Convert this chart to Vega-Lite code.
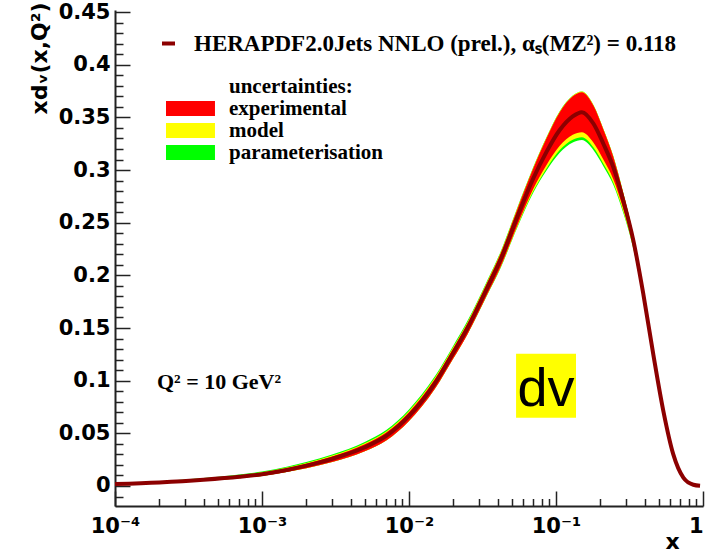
{
  "$schema": "https://vega.github.io/schema/vega-lite/v6.json",
  "width": 588,
  "height": 496,
  "autosize": {"type": "none"},
  "padding": {"left": 115, "top": 10, "right": 2, "bottom": 50},
  "background": "white",
  "config": {"view": {"stroke": null}, "axis": {"grid": false}},
  "datasets": {
    "pdf": [
      {"x": 0.0001, "c": 0.0018, "r_lo": 0.0014, "r_hi": 0.0022, "y_lo": 0.0014, "y_hi": 0.0024, "g_lo": 0.0014, "g_hi": 0.0026},
      {"x": 0.0002, "c": 0.0034, "r_lo": 0.0028, "r_hi": 0.0039, "y_lo": 0.0028, "y_hi": 0.0042, "g_lo": 0.0028, "g_hi": 0.0045},
      {"x": 0.0004, "c": 0.0059, "r_lo": 0.0050, "r_hi": 0.0066, "y_lo": 0.0050, "y_hi": 0.0070, "g_lo": 0.0050, "g_hi": 0.0075},
      {"x": 0.0007, "c": 0.0087, "r_lo": 0.0074, "r_hi": 0.0097, "y_lo": 0.0074, "y_hi": 0.0102, "g_lo": 0.0074, "g_hi": 0.0108},
      {"x": 0.001, "c": 0.0112, "r_lo": 0.0096, "r_hi": 0.0124, "y_lo": 0.0096, "y_hi": 0.0130, "g_lo": 0.0096, "g_hi": 0.0137},
      {"x": 0.0015, "c": 0.0155, "r_lo": 0.0135, "r_hi": 0.0170, "y_lo": 0.0135, "y_hi": 0.0177, "g_lo": 0.0135, "g_hi": 0.0185},
      {"x": 0.002, "c": 0.0193, "r_lo": 0.0169, "r_hi": 0.0211, "y_lo": 0.0169, "y_hi": 0.0219, "g_lo": 0.0169, "g_hi": 0.0228},
      {"x": 0.003, "c": 0.0258, "r_lo": 0.0228, "r_hi": 0.0280, "y_lo": 0.0228, "y_hi": 0.0289, "g_lo": 0.0228, "g_hi": 0.0299},
      {"x": 0.005, "c": 0.0368, "r_lo": 0.0330, "r_hi": 0.0396, "y_lo": 0.0330, "y_hi": 0.0406, "g_lo": 0.0330, "g_hi": 0.0418},
      {"x": 0.007, "c": 0.0475, "r_lo": 0.0432, "r_hi": 0.0507, "y_lo": 0.0432, "y_hi": 0.0518, "g_lo": 0.0432, "g_hi": 0.0531},
      {"x": 0.01, "c": 0.0665, "r_lo": 0.0617, "r_hi": 0.0701, "y_lo": 0.0617, "y_hi": 0.0713, "g_lo": 0.0617, "g_hi": 0.0727},
      {"x": 0.015, "c": 0.0975, "r_lo": 0.0923, "r_hi": 0.1015, "y_lo": 0.0923, "y_hi": 0.1027, "g_lo": 0.0923, "g_hi": 0.1041},
      {"x": 0.02, "c": 0.1265, "r_lo": 0.1210, "r_hi": 0.1307, "y_lo": 0.1210, "y_hi": 0.1319, "g_lo": 0.1210, "g_hi": 0.1332},
      {"x": 0.025, "c": 0.1500, "r_lo": 0.1442, "r_hi": 0.1545, "y_lo": 0.1442, "y_hi": 0.1556, "g_lo": 0.1442, "g_hi": 0.1568},
      {"x": 0.034, "c": 0.1880, "r_lo": 0.1818, "r_hi": 0.1930, "y_lo": 0.1815, "y_hi": 0.1940, "g_lo": 0.1812, "g_hi": 0.1950},
      {"x": 0.042, "c": 0.2150, "r_lo": 0.2082, "r_hi": 0.2208, "y_lo": 0.2076, "y_hi": 0.2217, "g_lo": 0.2071, "g_hi": 0.2225},
      {"x": 0.054, "c": 0.2540, "r_lo": 0.2460, "r_hi": 0.2612, "y_lo": 0.2448, "y_hi": 0.2620, "g_lo": 0.2440, "g_hi": 0.2626},
      {"x": 0.07, "c": 0.2920, "r_lo": 0.2820, "r_hi": 0.3015, "y_lo": 0.2798, "y_hi": 0.3022, "g_lo": 0.2784, "g_hi": 0.3026},
      {"x": 0.086, "c": 0.3170, "r_lo": 0.3045, "r_hi": 0.3300, "y_lo": 0.3013, "y_hi": 0.3306, "g_lo": 0.2993, "g_hi": 0.3309},
      {"x": 0.106, "c": 0.3380, "r_lo": 0.3230, "r_hi": 0.3550, "y_lo": 0.3190, "y_hi": 0.3556, "g_lo": 0.3165, "g_hi": 0.3558},
      {"x": 0.13, "c": 0.3510, "r_lo": 0.3335, "r_hi": 0.3700, "y_lo": 0.3289, "y_hi": 0.3706, "g_lo": 0.3262, "g_hi": 0.3707},
      {"x": 0.15, "c": 0.3550, "r_lo": 0.3360, "r_hi": 0.3740, "y_lo": 0.3312, "y_hi": 0.3745, "g_lo": 0.3285, "g_hi": 0.3746},
      {"x": 0.18, "c": 0.3440, "r_lo": 0.3260, "r_hi": 0.3610, "y_lo": 0.3214, "y_hi": 0.3615, "g_lo": 0.3188, "g_hi": 0.3616},
      {"x": 0.21, "c": 0.3250, "r_lo": 0.3100, "r_hi": 0.3385, "y_lo": 0.3060, "y_hi": 0.3389, "g_lo": 0.3037, "g_hi": 0.3390},
      {"x": 0.245, "c": 0.3030, "r_lo": 0.2915, "r_hi": 0.3130, "y_lo": 0.2883, "y_hi": 0.3134, "g_lo": 0.2863, "g_hi": 0.3135},
      {"x": 0.287, "c": 0.2710, "r_lo": 0.2630, "r_hi": 0.2780, "y_lo": 0.2607, "y_hi": 0.2783, "g_lo": 0.2592, "g_hi": 0.2784},
      {"x": 0.336, "c": 0.2330, "r_lo": 0.2275, "r_hi": 0.2378, "y_lo": 0.2260, "y_hi": 0.2381, "g_lo": 0.2250, "g_hi": 0.2382},
      {"x": 0.393, "c": 0.1820, "r_lo": 0.1782, "r_hi": 0.1853, "y_lo": 0.1772, "y_hi": 0.1855, "g_lo": 0.1765, "g_hi": 0.1856},
      {"x": 0.459, "c": 0.1250, "r_lo": 0.1225, "r_hi": 0.1272, "y_lo": 0.1219, "y_hi": 0.1274, "g_lo": 0.1215, "g_hi": 0.1275},
      {"x": 0.537, "c": 0.0714, "r_lo": 0.0698, "r_hi": 0.0728, "y_lo": 0.0694, "y_hi": 0.0729, "g_lo": 0.0691, "g_hi": 0.0729},
      {"x": 0.628, "c": 0.0300, "r_lo": 0.0291, "r_hi": 0.0308, "y_lo": 0.0289, "y_hi": 0.0309, "g_lo": 0.0288, "g_hi": 0.0309},
      {"x": 0.735, "c": 0.0080, "r_lo": 0.0076, "r_hi": 0.0084, "y_lo": 0.0075, "y_hi": 0.0084, "g_lo": 0.0074, "g_hi": 0.0084},
      {"x": 0.86, "c": 0.0012, "r_lo": 0.0011, "r_hi": 0.0013, "y_lo": 0.0011, "y_hi": 0.0013, "g_lo": 0.0011, "g_hi": 0.0013},
      {"x": 0.955, "c": 0.0002, "r_lo": 0.0002, "r_hi": 0.0002, "y_lo": 0.0002, "y_hi": 0.0002, "g_lo": 0.0002, "g_hi": 0.0002}
    ],
    "qlabel": [{"x": 0.000193, "y": 0.0923, "text": "Q² = 10 GeV²"}],
    "dvbox": [{"x": 0.0535, "x2": 0.1368, "y": 0.0647, "y2": 0.1256}],
    "dvlabel": [{"x": 0.0855, "y": 0.0761, "text": "dv"}]
  },
  "layer": [
    {
      "data": {"name": "pdf"},
      "mark": {"type": "area", "interpolate": "monotone", "opacity": 1},
      "encoding": {
        "x": {
          "field": "x", "type": "quantitative",
          "scale": {"type": "log", "domain": [0.0001, 1], "nice": false},
          "axis": {
            "orient": "bottom", "values": [0.0001, 0.001, 0.01, 0.1, 1],
            "labelExpr": "datum.value > 0.5 ? '1' : datum.value < 0.0005 ? '10⁻⁴' : datum.value < 0.005 ? '10⁻³' : datum.value < 0.05 ? '10⁻²' : '10⁻¹'",
            "labelAlign": {"condition": {"test": "datum.value > 0.5", "value": "right"}, "value": "center"},
            "ticks": false, "domain": true, "domainColor": "#222", "domainWidth": 2,
            "labelFont": "DejaVu Sans", "labelFontWeight": "bold", "labelFontSize": 21, "labelColor": "#000",
            "labelPadding": 9, "labelFlush": false, "labelOverlap": false, "labelBound": false, "labelBaseline": "top",
            "title": "x", "titleFont": "DejaVu Sans", "titleFontWeight": "bold", "titleFontSize": 22, "titleColor": "#000",
            "titleX": 557, "titleY": 42, "titleAlign": "center", "titleBaseline": "alphabetic", "titleAnchor": null
          }
        },
        "y": {
          "field": "g_lo", "type": "quantitative",
          "scale": {"domain": [-0.019, 0.452], "nice": false, "zero": false},
          "axis": {
            "orient": "left", "values": [0, 0.05, 0.1, 0.15, 0.2, 0.25, 0.3, 0.35, 0.4, 0.45],
            "format": ".2~f", "ticks": false, "domain": true, "domainColor": "#222", "domainWidth": 2,
            "labelFont": "DejaVu Sans", "labelFontWeight": "bold", "labelFontSize": 21, "labelColor": "#000",
            "labelPadding": 5, "labelFlush": false, "labelOverlap": false, "labelBound": false,
            "title": "xdᵥ(x,Q²)", "titleFont": "DejaVu Sans", "titleFontWeight": "bold", "titleFontSize": 22, "titleColor": "#000",
            "titleAngle": 270, "titleX": -69, "titleY": -8, "titleAlign": "right", "titleBaseline": "alphabetic"
          }
        },
        "y2": {"field": "g_hi"},
        "color": {
          "datum": "parameterisation",
          "scale": {
            "domain": ["uncertainties:", "experimental", "model", "parameterisation"],
            "range": ["rgba(0,0,0,0)", "#ff0000", "#ffff00", "#00ff00"]
          },
          "legend": {
            "orient": "none", "legendX": 48, "legendY": 66, "title": null, "padding": 0,
            "symbolType": "M-1,-1H5.53V1H-1Z", "symbolSize": 225, "symbolStrokeWidth": 0, "symbolOpacity": 1,
            "labelOffset": 45, "labelFont": "Liberation Serif", "labelFontWeight": "bold", "labelFontSize": 21,
            "labelColor": "#000", "rowPadding": 0, "labelLimit": 0
          }
        }
      }
    },
    {
      "data": {"name": "pdf"},
      "mark": {"type": "area", "interpolate": "monotone", "opacity": 1},
      "encoding": {
        "x": {
          "field": "x", "type": "quantitative",
          "axis": {"orient": "bottom", "values": [0.0001, 0.001, 0.01, 0.1, 1], "labels": false, "domain": false,
                   "ticks": true, "tickSize": -15, "tickWidth": 1.5, "tickColor": "#222", "title": null}
        },
        "y": {
          "field": "y_lo", "type": "quantitative",
          "axis": {"orient": "left", "values": [0, 0.05, 0.1, 0.15, 0.2, 0.25, 0.3, 0.35, 0.4, 0.45], "labels": false, "domain": false,
                   "ticks": true, "tickSize": -15, "tickWidth": 1.5, "tickColor": "#222", "title": null}
        },
        "y2": {"field": "y_hi"},
        "color": {"datum": "model"}
      }
    },
    {
      "data": {"name": "pdf"},
      "mark": {"type": "area", "interpolate": "monotone", "opacity": 1},
      "encoding": {
        "x": {
          "field": "x", "type": "quantitative",
          "axis": {"orient": "bottom",
                   "values": [0.0002, 0.0003, 0.0004, 0.0005, 0.0006, 0.0007, 0.0008, 0.0009, 0.002, 0.003, 0.004, 0.005, 0.006, 0.007, 0.008, 0.009, 0.02, 0.03, 0.04, 0.05, 0.06, 0.07, 0.08, 0.09, 0.2, 0.3, 0.4, 0.5, 0.6, 0.7, 0.8, 0.9],
                   "labels": false, "domain": false, "ticks": true, "tickSize": -7.5, "tickWidth": 1.5, "tickColor": "#222", "title": null}
        },
        "y": {
          "field": "r_lo", "type": "quantitative",
          "axis": {"orient": "left",
                   "values": [-0.01, 0.01, 0.02, 0.03, 0.04, 0.06, 0.07, 0.08, 0.09, 0.11, 0.12, 0.13, 0.14, 0.16, 0.17, 0.18, 0.19, 0.21, 0.22, 0.23, 0.24, 0.26, 0.27, 0.28, 0.29, 0.31, 0.32, 0.33, 0.34, 0.36, 0.37, 0.38, 0.39, 0.41, 0.42, 0.43, 0.44],
                   "labels": false, "domain": false, "ticks": true, "tickSize": -8, "tickWidth": 1.5, "tickColor": "#222", "title": null}
        },
        "y2": {"field": "r_hi"},
        "color": {"datum": "experimental"}
      }
    },
    {
      "data": {"name": "pdf"},
      "mark": {"type": "line", "interpolate": "monotone", "strokeWidth": 4},
      "encoding": {
        "x": {"field": "x", "type": "quantitative", "axis": null},
        "y": {"field": "c", "type": "quantitative", "axis": null},
        "stroke": {
          "datum": "HERAPDF2.0Jets NNLO (prel.), αₛ(MZ²) = 0.118",
          "scale": {"range": ["#8c0000"]},
          "legend": {
            "orient": "none", "legendX": 42, "legendY": 22, "title": null, "padding": 0,
            "symbolType": "M-1,0H1", "symbolSize": 169, "symbolStrokeWidth": 4,
            "labelOffset": 14, "labelFont": "Liberation Serif", "labelFontWeight": "bold", "labelFontSize": 23,
            "labelColor": "#000", "labelLimit": 0
          }
        }
      }
    },
    {
      "data": {"name": "dvbox"},
      "mark": {"type": "rect", "color": "#ffff00"},
      "encoding": {
        "x": {"field": "x", "type": "quantitative", "axis": null},
        "x2": {"field": "x2"},
        "y": {"field": "y", "type": "quantitative", "axis": null},
        "y2": {"field": "y2"}
      }
    },
    {
      "data": {"name": "dvlabel"},
      "mark": {"type": "text", "font": "Liberation Sans", "fontSize": 54, "align": "center", "baseline": "alphabetic", "color": "#000"},
      "encoding": {
        "x": {"field": "x", "type": "quantitative", "axis": null},
        "y": {"field": "y", "type": "quantitative", "axis": null},
        "text": {"field": "text"}
      }
    },
    {
      "data": {"name": "qlabel"},
      "mark": {"type": "text", "font": "Liberation Serif", "fontWeight": "bold", "fontSize": 22, "align": "left", "baseline": "alphabetic", "color": "#000"},
      "encoding": {
        "x": {"field": "x", "type": "quantitative", "axis": null},
        "y": {"field": "y", "type": "quantitative", "axis": null},
        "text": {"field": "text"}
      }
    }
  ],
  "resolve": {"axis": {"x": "independent", "y": "independent"}}
}
